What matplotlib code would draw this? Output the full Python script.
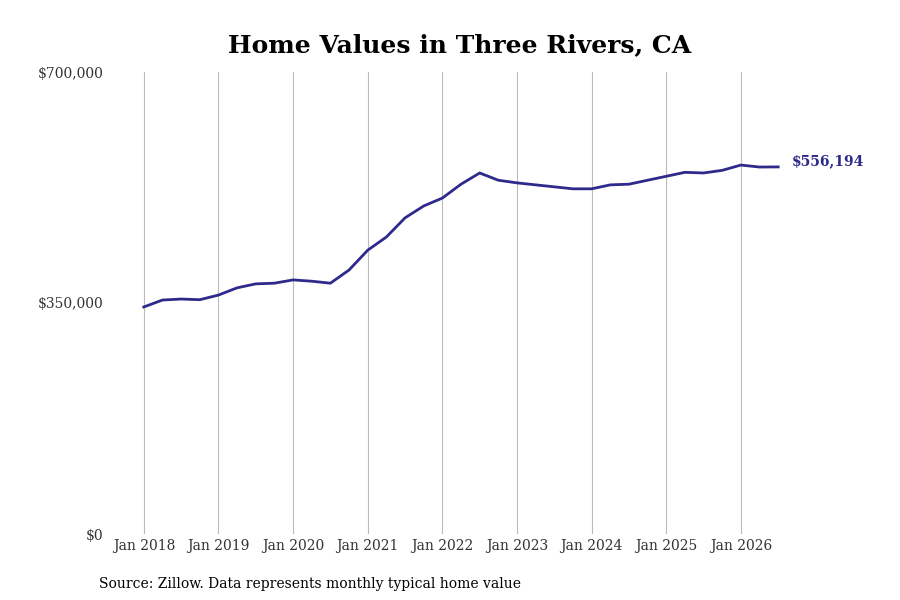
import numpy as np
import matplotlib.pyplot as plt

# Quarterly typical home values
dates = [2018.0, 2018.25, 2018.5, 2018.75, 2019.0, 2019.25, 2019.5, 2019.75,
         2020.0, 2020.25, 2020.5, 2020.75, 2021.0, 2021.25, 2021.5, 2021.75,
         2022.0, 2022.25, 2022.5, 2022.75, 2023.0, 2023.25, 2023.5, 2023.75,
         2024.0, 2024.25, 2024.5, 2024.75, 2025.0, 2025.25, 2025.5, 2025.75,
         2026.0, 2026.25, 2026.5]
values = [344000, 354500, 356000, 355000, 362000, 373000, 379000, 380000,
          385000, 383000, 380000, 400000, 430000, 450000, 479000, 497000,
          509000, 530000, 547000, 536000, 532000, 529000, 526000, 523000,
          523000, 529000, 530000, 536000, 542000, 548000, 547000, 551000,
          559000, 556000, 556194]
tick_years = list(range(2018, 2027))
tick_labels = [f'Jan {y}' for y in tick_years]

plt.rcParams['font.family'] = 'DejaVu Serif'

plt.figure(figsize=(9, 6), dpi=100)
ax = plt.gca()
plt.plot(dates, values, color='#2e2a8c', linewidth=2)
plt.text(dates[-1] + 0.18, values[-1] + 8000, f'${values[-1]:,}', color='#2e2a8c',
         fontweight='bold', fontsize=10, va='center')  # end label

plt.title('Home Values in Three Rivers, CA', fontsize=18, fontweight='bold', pad=14, x=0.46)
plt.xticks(tick_years, tick_labels, fontsize=10, color='#333333')
plt.yticks([0, 350000, 700000], ['$0', '$350,000', '$700,000'], fontsize=10, color='#333333')
plt.ylim(0, 700000)
plt.xlim(2017.52, 2027.77)
plt.grid(axis='x', color='#bbbbbb', linewidth=0.8)
ax.tick_params(length=0)
for s in ax.spines.values():
    s.set_visible(False)

plt.subplots_adjust(left=0.12, right=0.97, top=0.88, bottom=0.11)
plt.figtext(0.11, 0.02, 'Source: Zillow. Data represents monthly typical home value', fontsize=10)
plt.savefig('out.png')
